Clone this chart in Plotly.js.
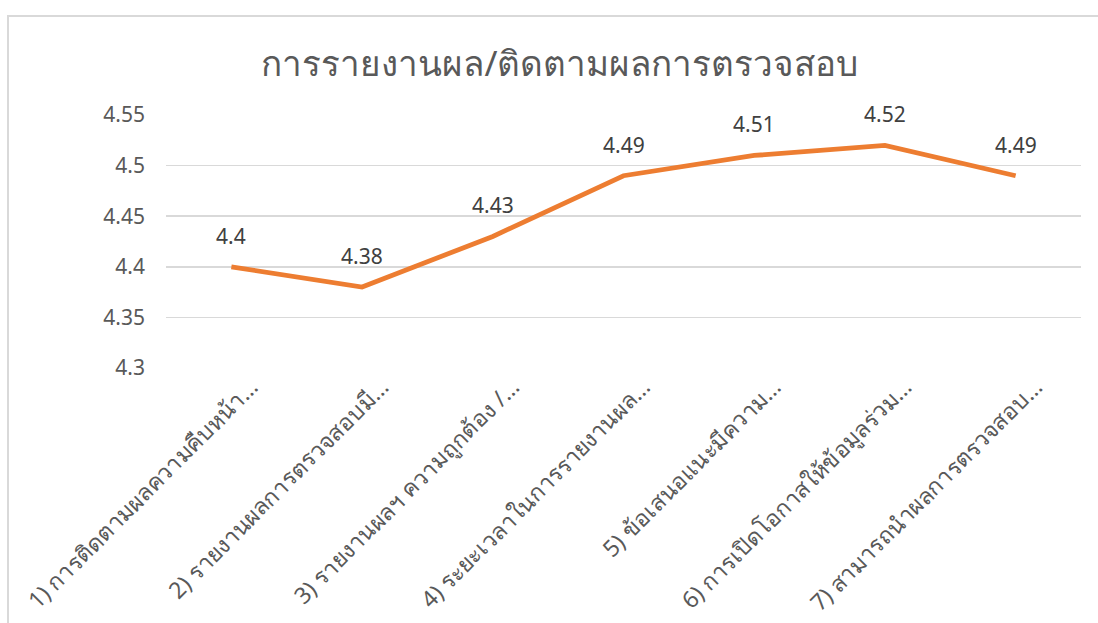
<!DOCTYPE html>
<html>
<head>
<meta charset="utf-8">
<script src="https://cdn.plot.ly/plotly-3.0.1.min.js"></script>
<style>
  html, body { margin: 0; padding: 0; background: #fff; overflow: hidden; }
  #chart { position: absolute; left: 0; top: 0; width: 1098px; height: 623px; }
  #frame { position: absolute; left: 7px; top: 15px; width: 1200px; height: 700px;
           border: 2px solid #d9d9d9; pointer-events: none; box-sizing: border-box; }
</style>
</head>
<body>
<div id="chart"></div>
<div id="frame"></div>
<script>
const chartTitle = "การรายงานผล/ติดตามผลการตรวจสอบ";
const categories = [
  "1) การติดตามผลความคืบหน้า…",
  "2) รายงานผลการตรวจสอบมี…",
  "3) รายงานผลฯ ความถูกต้อง /…",
  "4) ระยะเวลาในการรายงานผล…",
  "5) ข้อเสนอแนะมีความ…",
  "6) การเปิดโอกาสให้ข้อมูลร่วม…",
  "7) สามารถนำผลการตรวจสอบ…"
];
const values = [4.4, 4.38, 4.43, 4.49, 4.51, 4.52, 4.49];
const yTicks = [4.3, 4.35, 4.4, 4.45, 4.5, 4.55];
const yTickText = ["4.3", "4.35", "4.4", "4.45", "4.5", "4.55"];

const trace = {
  x: categories,
  y: values,
  type: "scatter",
  mode: "lines",
  line: { color: "#ED7D31", width: 4.8 },
  hoverinfo: "x+y"
};

const annotations = categories.map((c, i) => ({
  x: c, y: values[i], xref: "x", yref: "y",
  text: String(values[i]),
  showarrow: false,
  yshift: 31,
  font: { family: "Noto Sans, Open Sans, sans-serif", size: 21, color: "#404040" }
}));

const layout = {
  width: 1098, height: 623,
  margin: { l: 166, r: 17, t: 115, b: 255 },
  paper_bgcolor: "#ffffff",
  plot_bgcolor: "#ffffff",
  showlegend: false,
  title: {
    text: chartTitle,
    x: 0.51, xanchor: "center",
    y: 0.898, yanchor: "middle",
    font: { family: "Noto Sans, sans-serif", size: 35, color: "#595959" }
  },
  xaxis: {
    type: "category",
    tickangle: -45,
    showgrid: false,
    showline: false,
    zeroline: false,
    ticks: "",
    ticklabelshift: 20,
    ticklabelstandoff: 0,
    tickfont: { family: "Noto Sans, Open Sans, sans-serif", size: 23, color: "#595959" },
    range: [-0.5, categories.length - 0.5]
  },
  yaxis: {
    range: [4.3, 4.55],
    tickvals: yTicks,
    ticktext: yTickText,
    showgrid: true,
    gridcolor: "#d9d9d9",
    gridwidth: 1.5,
    zeroline: false,
    showline: false,
    ticks: "",
    ticklen: 0,
    ticklabelstandoff: 20,
    tickfont: { family: "Noto Sans, Open Sans, sans-serif", size: 21, color: "#595959" }
  },
  annotations: annotations
};

Plotly.newPlot("chart", [trace], layout, { displayModeBar: false, staticPlot: true });
</script>
</body>
</html>
